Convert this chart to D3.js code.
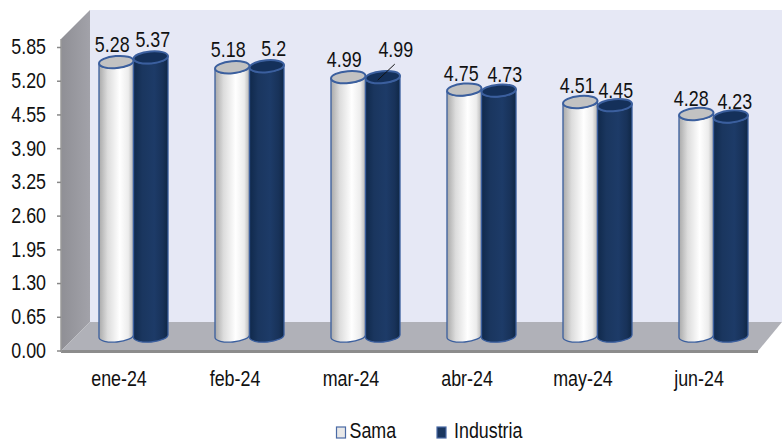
<!DOCTYPE html>
<html><head><meta charset="utf-8">
<script src="https://cdn.jsdelivr.net/npm/d3@7"></script>
<style>html,body{margin:0;padding:0;background:#fff}svg{display:block}
text{font-family:"Liberation Sans",Arial,sans-serif;fill:#111}</style>
</head><body><svg id="c" width="782" height="442"></svg>
<script>
const categories=["ene-24","feb-24","mar-24","abr-24","may-24","jun-24"];
const seriesNames=["Sama","Industria"];
const sama=[5.28,5.18,4.99,4.75,4.51,4.28];
const industria=[5.37,5.2,4.99,4.73,4.45,4.23];
const samaLabels=["5.28","5.18","4.99","4.75","4.51","4.28"];
const industriaLabels=["5.37","5.2","4.99","4.73","4.45","4.23"];
const yTicks=[0,0.65,1.3,1.95,2.6,3.25,3.9,4.55,5.2,5.85];

const W=782,H=442,fs=21.5,squeeze=0.83;
const svg=d3.select("#c");
const x=d3.scaleBand().domain(categories).range([61,757]).paddingInner(0.405).paddingOuter(0.2025);
const xLabel=d3.scaleBand().domain(categories).range([61,757]);
const sub=d3.scaleBand().domain(seriesNames).range([0,x.bandwidth()]);
const y=d3.scaleLinear().domain([0,5.85]).range([350.5,47]);
const dx=14.5,dy=14.5,ry=6,tilt=1.5;

function narrow(sel){sel.each(function(){
  const n=this.getComputedTextLength();
  this.setAttribute("textLength",n*squeeze);
  this.setAttribute("lengthAdjust","spacingAndGlyphs");
});}

const defs=svg.append("defs");
function grad(id,stops){const g=defs.append("linearGradient").attr("id",id);
 stops.forEach(s=>g.append("stop").attr("offset",s[0]).attr("stop-color",s[1]));}
grad("gS",[[0,"#a9a9a9"],[0.25,"#dcdcdc"],[0.6,"#ffffff"],[0.85,"#ececec"],[1,"#b4b4b4"]]);
grad("gI",[[0,"#10294b"],[0.25,"#1a365f"],[0.6,"#1d3b68"],[0.85,"#183259"],[1,"#0f2745"]]);
grad("gSide",[[0,"#8f8f95"],[1,"#a2a2a9"]]);

// walls
svg.append("rect").attr("x",90).attr("y",10).attr("width",W-90).attr("height",312).attr("fill","#e6e8f5");
svg.append("path").attr("d","M61,39L90,10V322L61,351Z").attr("fill","url(#gSide)");
svg.append("path").attr("d","M61,351L90,322H782L758,351Z").attr("fill","#b0b1b8");
svg.append("path").attr("d","M61,351.5H758").attr("stroke","#8c8c8c").attr("stroke-width",3);
svg.append("path").attr("d","M61,39V352").attr("stroke","#9a9a9a").attr("stroke-width",1.5);

// y axis
const yAxis=svg.append("g").attr("transform","translate(61,0)")
 .call(d3.axisLeft(y).tickValues(yTicks).tickSize(4).tickPadding(11).tickFormat(d3.format(".2f")));
yAxis.select(".domain").remove();
yAxis.selectAll("line").attr("stroke","#888").attr("stroke-width",1.5);
yAxis.selectAll("text").attr("font-size",fs).style("fill","#111").call(narrow);

// x axis
const xAxis=svg.append("g").attr("transform","translate(0,351)")
 .call(d3.axisBottom(xLabel).tickSize(0).tickPadding(20));
xAxis.select(".domain").remove();
xAxis.selectAll("text").attr("font-size",fs).style("fill","#111").call(narrow);

// cylinders
function body(x0,x1,yt,yb){const a=(x1-x0)/2;
 return `M${x0},${yt+tilt}V${yb+tilt}A${a},${ry} -5 0 0 ${x1},${yb-tilt}V${yt-tilt}A${a},${ry} -5 0 1 ${x0},${yt+tilt}Z`;}
const series=[{name:"Sama",vals:sama,fill:"url(#gS)",top:"#c2c2c2"},
              {name:"Industria",vals:industria,fill:"url(#gI)",top:"#14305a"}];
series.forEach(s=>{
 svg.append("g").selectAll("path").data(s.vals).join("path")
  .attr("d",(v,i)=>{const x0=x(categories[i])+sub(s.name)+dx;
    return body(x0,x0+sub.bandwidth(),y(v)-dy,y(0)-dy);})
  .attr("fill",s.fill).attr("stroke","#3b5f9e").attr("stroke-width",1.3);
});
[series[1],series[0]].forEach(s=>{
 svg.append("g").selectAll("ellipse").data(s.vals).join("ellipse")
  .attr("transform",(v,i)=>`translate(${x(categories[i])+sub(s.name)+dx+sub.bandwidth()/2},${y(v)-dy}) rotate(-5)`)
  .attr("rx",sub.bandwidth()/2).attr("ry",ry)
  .attr("fill",s.top).attr("stroke","#3b5f9e").attr("stroke-width",2);
});

// data labels: nudges from each cylinder's top
const nudgeS=[[-4,-10],[-4,-10],[-4,-10],[-3,-9],[-3,-9],[-5,-8]];
const nudgeI=[[2,-10],[7,-10],[13,-20],[6,-9],[1,-7],[4,-8]];
function labels(s,txt,nudge){
 svg.append("g").selectAll("text").data(s.vals).join("text")
  .attr("text-anchor","middle").attr("font-size",fs)
  .attr("x",(v,i)=>x(categories[i])+sub(s.name)+dx+sub.bandwidth()/2+nudge[i][0])
  .attr("y",(v,i)=>y(v)-dy+nudge[i][1])
  .text((v,i)=>txt[i]).call(narrow);
}
labels(series[0],samaLabels,nudgeS);
labels(series[1],industriaLabels,nudgeI);
// leader line of the third Industria label
const lx=x(categories[2])+sub("Industria")+dx+sub.bandwidth()/2, ly=y(industria[2])-dy;
svg.append("line").attr("x1",lx-5).attr("y1",ly+3).attr("x2",lx+12).attr("y2",ly-13).attr("stroke","#111").attr("stroke-width",1);

// legend
const lg=svg.append("g");
const legendX=d3.scaleOrdinal().domain(seriesNames).range([336.5,437]);
const legendFill=d3.scaleOrdinal().domain(seriesNames).range(["#e8e8e8","#1a365f"]);
lg.selectAll("rect").data(seriesNames).join("rect")
 .attr("x",d=>legendX(d)).attr("y",427).attr("width",9).attr("height",11)
 .attr("fill",d=>legendFill(d)).attr("stroke","#4a6aa5").attr("stroke-width",1.2);
lg.selectAll("text").data(seriesNames).join("text")
 .attr("x",d=>legendX(d)+(d==="Sama"?13:17)).attr("y",437.5).attr("font-size",fs).text(d=>d).call(narrow);
</script></body></html>
